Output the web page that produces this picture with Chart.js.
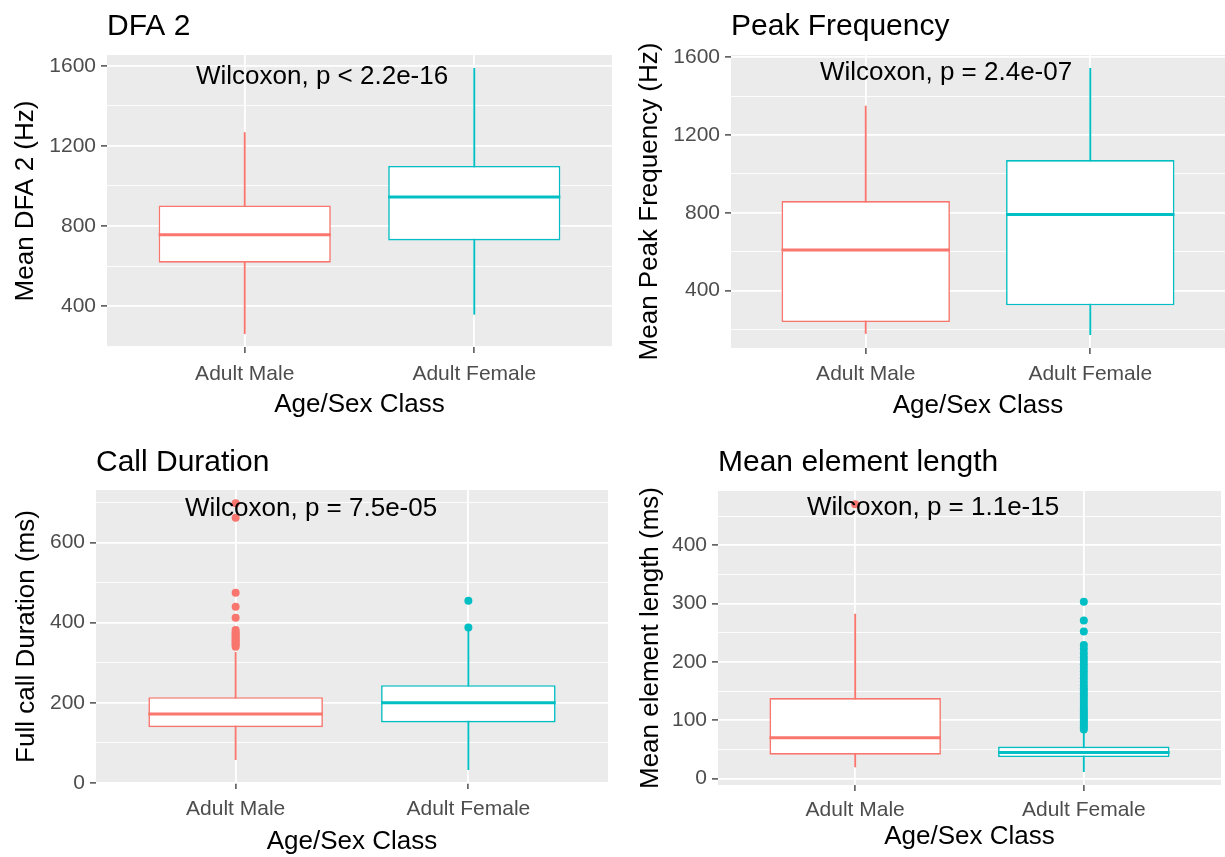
<!DOCTYPE html>
<html>
<head>
<meta charset="utf-8">
<script src="https://cdn.jsdelivr.net/npm/chart.js@4.4.1/dist/chart.umd.min.js"></script>
<style>
html, body { margin: 0; padding: 0; background: #ffffff; }
#wrap { position: relative; width: 1225px; height: 857px; overflow: hidden; }
canvas { position: absolute; }
</style>
</head>
<body>
<div id="wrap">
  <canvas id="c1" width="612" height="428" style="left:0px;top:0px"></canvas>
  <canvas id="c2" width="613" height="428" style="left:612px;top:0px"></canvas>
  <canvas id="c3" width="612" height="429" style="left:0px;top:428px"></canvas>
  <canvas id="c4" width="613" height="429" style="left:612px;top:428px"></canvas>
</div>
<script>
// ---------------- data ----------------
const categories = ['Adult Male', 'Adult Female'];
const xAxisTitle = 'Age/Sex Class';

// DFA 2
const dfaTitle = 'DFA 2';
const dfaYTitle = 'Mean DFA 2 (Hz)';
const dfaTest = 'Wilcoxon, p < 2.2e-16';
const dfaMin = [262, 359];
const dfaQ1 = [617, 728];
const dfaMedian = [757, 945];
const dfaQ3 = [903, 1100];
const dfaMax = [1267, 1588];
const dfaOutMale = [];
const dfaOutFemale = [];
const dfaMajorTicks = [400, 800, 1200, 1600];
const dfaMinorTicks = [200, 600, 1000, 1400];

// Peak Frequency
const peakTitle = 'Peak Frequency';
const peakYTitle = 'Mean Peak Frequency (Hz)';
const peakTest = 'Wilcoxon, p = 2.4e-07';
const peakMin = [179, 173];
const peakQ1 = [238, 324];
const peakMedian = [608, 791];
const peakQ3 = [860, 1071];
const peakMax = [1349, 1543];
const peakOutMale = [];
const peakOutFemale = [];
const peakMajorTicks = [400, 800, 1200, 1600];
const peakMinorTicks = [200, 600, 1000, 1400];

// Call Duration
const durTitle = 'Call Duration';
const durYTitle = 'Full call Duration (ms)';
const durTest = 'Wilcoxon, p = 7.5e-05';
const durMin = [58, 33];
const durQ1 = [139, 151];
const durMedian = [172, 200];
const durQ3 = [214, 244];
const durMax = [326, 380];
const durOutMale = [340, 344, 348, 352, 356, 360, 364, 368, 372, 376, 382, 412, 440, 475, 662, 698];
const durOutFemale = [388, 455];
const durMajorTicks = [0, 200, 400, 600];
const durMinorTicks = [100, 300, 500, 700];

// Mean element length
const elemTitle = 'Mean element length';
const elemYTitle = 'Mean element length (ms)';
const elemTest = 'Wilcoxon, p = 1.1e-15';
const elemMin = [20, 12];
const elemQ1 = [41, 37];
const elemMedian = [70, 45];
const elemQ3 = [138, 55];
const elemMax = [282, 81];
const elemOutMale = [470];
const elemOutFemale = [84, 88, 92, 96, 100, 104, 108, 112, 116, 120, 125, 130, 135, 140, 145, 150, 155, 160, 166, 172, 178, 184, 190, 196, 202, 208, 215, 222, 229, 252, 271, 303];
const elemMajorTicks = [0, 100, 200, 300, 400];
const elemMinorTicks = [50, 150, 250, 350, 450];

// ---------------- styling ----------------
const COLORS = ['#F8766D', '#00BFC4'];
const FONT = "'Liberation Sans', Arial, Helvetica, sans-serif";
Chart.defaults.font.family = FONT;

const panelPlugin = {
  id: 'panel',
  beforeDraw(chart, args, opts) {
    const { ctx, chartArea: a } = chart;
    ctx.save();
    ctx.fillStyle = opts.color;
    ctx.fillRect(a.left, a.top, a.right - a.left, a.bottom - a.top);
    ctx.restore();
  },
  afterDatasetsDraw(chart, args, opts) {
    const { ctx, chartArea: a } = chart;
    ctx.save();
    ctx.font = opts.fontSize + 'px ' + FONT;
    ctx.fillStyle = '#000000';
    ctx.textAlign = 'left';
    ctx.textBaseline = 'middle';
    ctx.fillText(opts.text, a.left + opts.dx, a.top + opts.dy);
    ctx.restore();
  }
};

function halfBox(chart) {
  const x = chart.scales.x;
  return (x.getPixelForValue(2) - x.getPixelForValue(1)) * 0.75 / 2;
}

function boxChart(id, s, o) {
  const all = [].concat(s.min, s.max, s.outMale, s.outFemale);
  const lo = Math.min.apply(null, all);
  const hi = Math.max.apply(null, all);
  const pad = (hi - lo) * 0.05;
  const yTicks = s.major.concat(s.minor).sort((a, b) => a - b);
  const isMajor = v => s.major.indexOf(v) >= 0;
  new Chart(document.getElementById(id), {
    type: 'bar',
    data: {
      datasets: [
        { type: 'scatter', data: s.outMale.map(v => ({ x: 1, y: v })),
          backgroundColor: COLORS[0], borderWidth: 0, pointRadius: 4, pointHoverRadius: 4 },
        { type: 'scatter', data: s.outFemale.map(v => ({ x: 2, y: v })),
          backgroundColor: COLORS[1], borderWidth: 0, pointRadius: 4, pointHoverRadius: 4 },
        { type: 'line', data: s.median.map((v, i) => ({ x: i + 1, y: v })),
          showLine: false, pointStyle: 'line',
          pointRadius: ctx => halfBox(ctx.chart), pointHoverRadius: ctx => halfBox(ctx.chart),
          pointBorderWidth: 3, pointHoverBorderWidth: 3,
          pointBorderColor: COLORS, pointBackgroundColor: COLORS },
        { type: 'bar', data: s.q1.map((v, i) => ({ x: i + 1, y: [v, s.q3[i]] })),
          backgroundColor: '#ffffff', borderColor: COLORS, borderWidth: 1.6, borderSkipped: false,
          grouped: false, categoryPercentage: 0.75, barPercentage: 1 },
        { type: 'bar', data: s.min.map((v, i) => ({ x: i + 1, y: [v, s.max[i]] })),
          backgroundColor: COLORS, borderWidth: 0, barThickness: 1.2, grouped: false }
      ]
    },
    options: {
      responsive: false,
      animation: false,
      events: [],
      layout: { padding: 0 },
      plugins: {
        legend: { display: false },
        tooltip: { enabled: false },
        title: {
          display: true, text: s.title, align: 'start', fullSize: false,
          color: '#000000', font: { size: 30, weight: 'normal' },
          padding: { top: o.titleTop, bottom: o.titleBottom }
        },
        panel: { color: '#EBEBEB', text: s.test, fontSize: 26, dx: 89, dy: o.textDy }
      },
      scales: {
        x: {
          type: 'linear', min: 0.4, max: 2.6, offset: false,
          afterBuildTicks: sc => { sc.ticks = categories.map((c, i) => ({ value: i + 1 })); },
          afterFit: sc => { sc.height = o.xH; },
          ticks: { callback: (v, i) => categories[i], color: '#4D4D4D', font: { size: 21 },
                   padding: o.xPad, autoSkip: false, maxRotation: 0, minRotation: 0 },
          grid: { color: '#ffffff', lineWidth: 1.8, offset: false, drawTicks: true,
                  tickLength: 6, tickColor: '#333333', tickWidth: 1.3 },
          border: { display: false },
          title: { display: true, text: xAxisTitle, color: '#000000', font: { size: 26 },
                   padding: { top: 0, bottom: o.xTitlePad } }
        },
        y: {
          type: 'linear', min: lo - pad, max: hi + pad,
          afterBuildTicks: sc => { sc.ticks = yTicks.map(v => ({ value: v })); },
          afterFit: sc => { sc.width = o.yW; },
          ticks: { callback: v => (isMajor(v) ? String(v) : ''), color: '#4D4D4D',
                   font: { size: 21 }, padding: 5, autoSkip: false },
          grid: {
            color: '#ffffff',
            lineWidth: c => (c.tick && isMajor(c.tick.value) ? 1.8 : 0.9),
            drawTicks: true, tickLength: 6,
            tickColor: c => (c.tick && isMajor(c.tick.value) ? '#333333' : 'rgba(0,0,0,0)'),
            tickWidth: 1.3
          },
          border: { display: false },
          title: { display: true, text: s.yTitle, color: '#000000', font: { size: 26 },
                   padding: { top: o.yTitlePad, bottom: 0 } }
        }
      }
    },
    plugins: [panelPlugin]
  });
}

boxChart('c1', {
  title: dfaTitle, yTitle: dfaYTitle, test: dfaTest,
  min: dfaMin, q1: dfaQ1, median: dfaMedian, q3: dfaQ3, max: dfaMax,
  outMale: dfaOutMale, outFemale: dfaOutFemale, major: dfaMajorTicks, minor: dfaMinorTicks
}, { yW: 107, yTitlePad: 10.4, xH: 81, xPad: 9, xTitlePad: 7.4, titleTop: 8.5, titleBottom: 10.5, textDy: 22 });

boxChart('c2', {
  title: peakTitle, yTitle: peakYTitle, test: peakTest,
  min: peakMin, q1: peakQ1, median: peakMedian, q3: peakQ3, max: peakMax,
  outMale: peakOutMale, outFemale: peakOutFemale, major: peakMajorTicks, minor: peakMinorTicks
}, { yW: 119, yTitlePad: 22.4, xH: 80, xPad: 8, xTitlePad: 7, titleTop: 9, titleBottom: 10, textDy: 17.5 });

boxChart('c3', {
  title: durTitle, yTitle: durYTitle, test: durTest,
  min: durMin, q1: durQ1, median: durMedian, q3: durQ3, max: durMax,
  outMale: durOutMale, outFemale: durOutFemale, major: durMajorTicks, minor: durMinorTicks
}, { yW: 96, yTitlePad: 11.4, xH: 74, xPad: 8, xTitlePad: 0, titleTop: 17, titleBottom: 9, textDy: 18.5 });

boxChart('c4', {
  title: elemTitle, yTitle: elemYTitle, test: elemTest,
  min: elemMin, q1: elemQ1, median: elemMedian, q3: elemQ3, max: elemMax,
  outMale: elemOutMale, outFemale: elemOutFemale, major: elemMajorTicks, minor: elemMinorTicks
}, { yW: 106, yTitlePad: 23.4, xH: 72, xPad: 7, xTitlePad: 5, titleTop: 17, titleBottom: 10, textDy: 17 });
</script>
</body>
</html>
